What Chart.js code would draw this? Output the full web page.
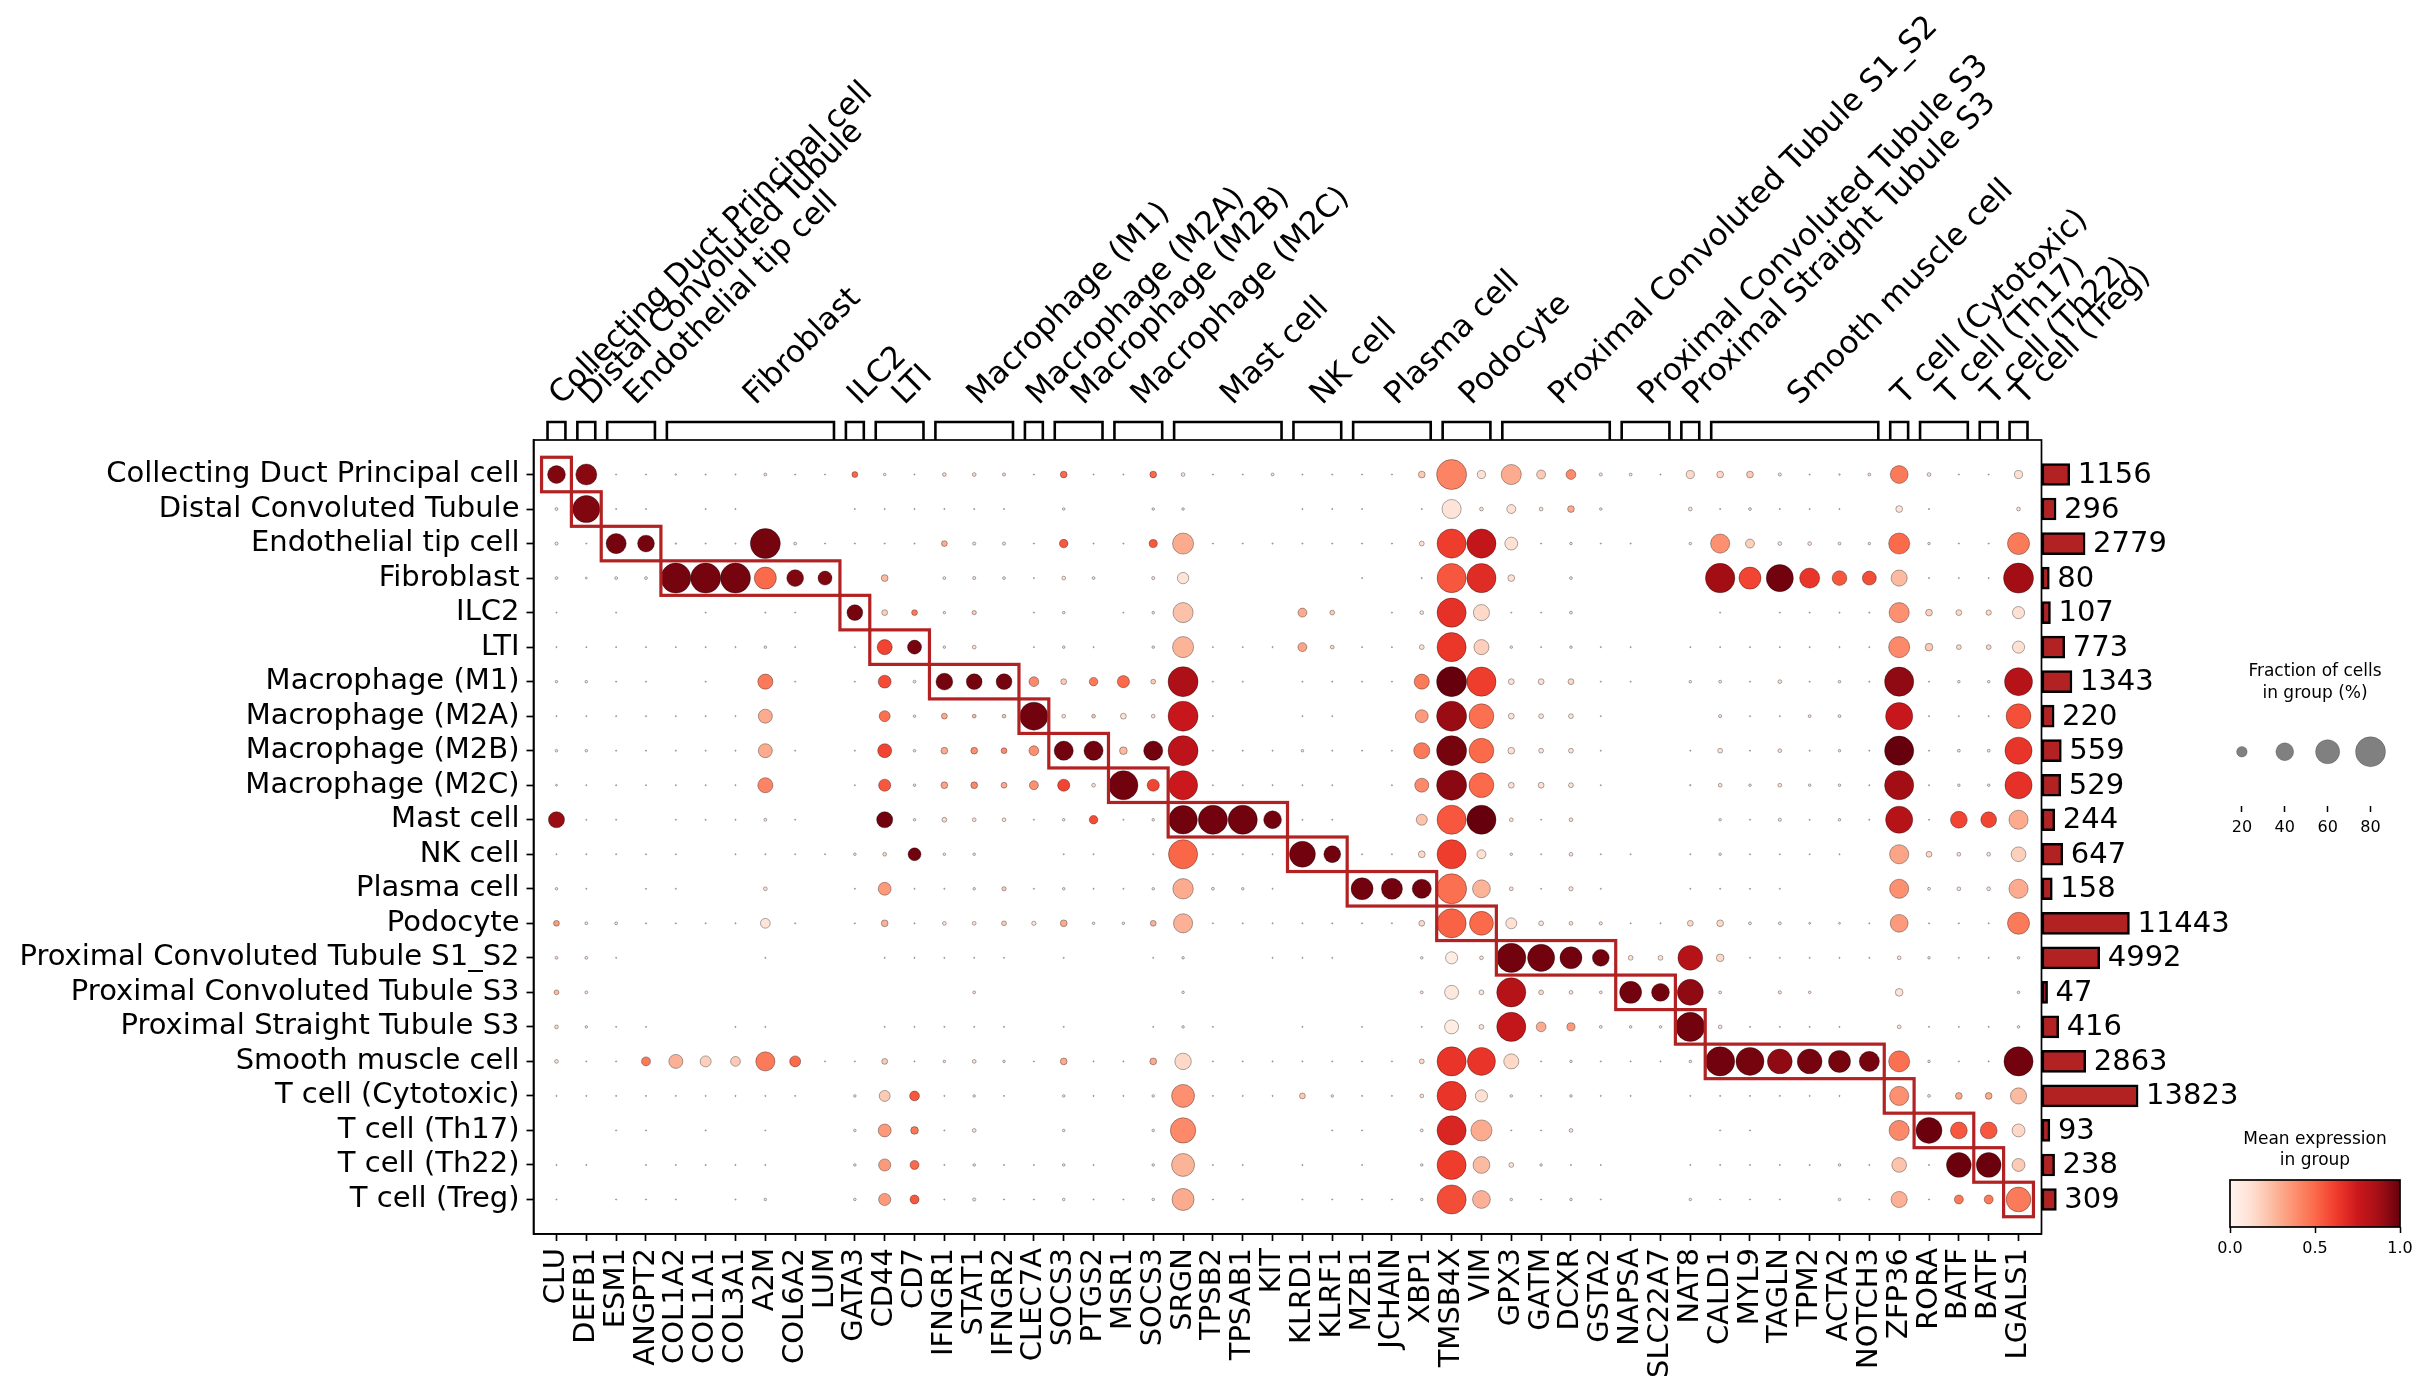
<!DOCTYPE html>
<html lang="en">
<head>
<meta charset="utf-8">
<title>Marker genes dot plot</title>
<script src="https://cdn.jsdelivr.net/npm/chart.js@4.4.1/dist/chart.umd.min.js"></script>
<style>
  body { margin: 0; background: #fff; overflow: hidden; }
  canvas { position: absolute; left: 0; top: 0; }
</style>
</head>
<body>
<canvas id="dots" width="2429" height="1394"></canvas>
<canvas id="totals" width="2429" height="1394"></canvas>
<canvas id="sizeLegend" width="2429" height="1394"></canvas>
<canvas id="colorBar" width="2429" height="1394"></canvas>
<script>
// cell types (rows, also the gene groups on top)
const rows = ["Collecting Duct Principal cell","Distal Convoluted Tubule","Endothelial tip cell","Fibroblast",
  "ILC2","LTI","Macrophage (M1)","Macrophage (M2A)","Macrophage (M2B)","Macrophage (M2C)","Mast cell",
  "NK cell","Plasma cell","Podocyte","Proximal Convoluted Tubule S1_S2","Proximal Convoluted Tubule S3",
  "Proximal Straight Tubule S3","Smooth muscle cell","T cell (Cytotoxic)","T cell (Th17)","T cell (Th22)","T cell (Treg)"];

const genes = ["CLU","DEFB1","ESM1","ANGPT2","COL1A2","COL1A1","COL3A1","A2M","COL6A2","LUM",
  "GATA3","CD44","CD7","IFNGR1","STAT1","IFNGR2","CLEC7A","SOCS3","PTGS2","MSR1",
  "SOCS3","SRGN","TPSB2","TPSAB1","KIT","KLRD1","KLRF1","MZB1","JCHAIN","XBP1",
  "TMSB4X","VIM","GPX3","GATM","DCXR","GSTA2","NAPSA","SLC22A7","NAT8","CALD1",
  "MYL9","TAGLN","TPM2","ACTA2","NOTCH3","ZFP36","RORA","BATF","BATF","LGALS1"];

// number of marker genes for each group, same order as rows
const groupSizes = [1,1,2,6,1,2,3,1,2,2,4,2,3,2,4,2,1,6,1,2,1,1];

// cells per group (bar plot on the right)
const cellCounts = [1156,296,2779,80,107,773,1343,220,559,529,244,647,158,11443,4992,47,416,2863,13823,93,238,309];

// fraction of cells expressing (%) per row
const pct = [
  [40,50,1,1,1.5,1,1,3.5,1,.5, 9,3,1,5,5,4,.5,11,.5,.5, 11,5,.5,.5,3.5,.5,.5,.5,.5,11, 80,14,47,16,18,4,3.5,.5,14,11, 11,4,1,1.5,3.5,40,5,.5,.5,14],
  [3.5,70,.5,.5,0,.5,.5,0,0,0, .5,.5,.5,.3,.5,.5,0,3,0,0, 3,3,0,0,0,.5,.5,.5,0,1, 44,5,16,5,11,3,0,0,5,1, 3.5,1,.5,.5,0,11,1,0,0,5],
  [4,1,47,37,1.5,1,1,80,3.5,.5, .3,.5,1,9,4,4,.5,15,.5,.5, 14,50,.5,.3,1,1,.3,.3,.3,7, 77,77,26,1,3,.5,.3,0,3,44, 16,5,5,3.5,3,50,3,.5,.5,53],
  [3.5,2,3.5,3.5,80,80,80,53,37,29, 0,11,0,3.5,4,3.5,1,5,3.5,0, 4,22,0,0,0,0,0,1,0,1, 77,77,11,0,3.5,0,0,0,0,78, 53,70,47,31,29,35,1,.5,.5,80],
  [1,0,.5,0,0,.5,0,.5,.5,0, 34,9,9,3,6,0,.5,3,0,.5, 3,47,0,0,0,16,7,0,.5,5, 77,35,1,1,3.5,0,0,0,0,.5, 0,.5,.5,.5,.5,47,11,9,8,24],
  [1,.5,.5,.5,.5,.3,.5,3,.5,0, 1,32,29,3,5,0,.5,3,.5,0, 3,50,.3,.3,.3,16,5,.3,.3,7, 77,32,3,.3,3,.3,.3,0,1,1, .5,.5,.5,1,.3,50,13,7,7,24],
  [3,3,1,.5,0,.5,0,32,.5,0, .5,26,3.5,37,34,34,18,9,15,24, 7,80,1,.3,0,.5,.5,.3,.5,32, 80,77,9,9,9,.5,.5,0,3,3.5, 1,5,1,3,.3,77,.3,3,3,73],
  [1,1,1,.5,.5,.5,.5,29,0,0, 0,21,3,9,5,5,73,5,5,9, 5,80,.5,0,0,.5,.3,0,0,26, 80,62,9,7,7,.5,0,0,0,4, .3,1,3.5,3.5,0,70,.5,.5,.5,62],
  [3,3,1,.5,.3,.3,1,29,.3,0, .3,29,3,11,11,9,18,44,44,13, 44,80,1,.5,.3,3,.5,.3,1,35, 80,62,11,7,7,.5,0,0,1,7, 1,5,1,3,1,77,.5,3.5,3.5,70],
  [2,1,1,.5,.3,.3,.3,32,0,0, .3,24,3,11,11,9,16,24,5,77, 24,77,.5,.5,.3,.5,.5,0,1,29, 80,62,9,9,7,.3,0,0,1.5,5, 3,5,3,3,.3,77,.5,3,3,70],
  [35,.3,.5,0,.3,.3,.3,3.5,.3,0, 0,35,3,7,5,5,.3,3,15,1, 3,75,77,77,40,1,.5,0,0,21, 77,77,5,1,5,0,0,0,0,3, .5,4,1,3,1,70,.5,37,34,44],
  [.5,.5,.5,.3,.3,0,.5,.5,.5,.3, 3,5,26,3,3,0,0,.5,.5,0, .5,77,.3,.5,.5,66,37,.3,.3,11, 77,16,3,1,5,.5,.3,0,.5,3, .5,.5,.5,.5,0,44,9,5,5,31],
  [3,1,0,.5,1,0,0,5,0,0, .5,26,.3,.3,3,6,.3,3,.5,.3, 3,48,3.5,3,1,0,0,53,50,44, 80,40,5,.5,6,.5,0,0,.5,.5, 1,.5,0,0,0,44,3.5,5,5,44],
  [9,3.5,3.5,1,.5,.5,.5,18,.3,0, .3,11,1,5,5,7,6,11,3,3, 9,44,.5,.5,.3,.5,.3,.3,1,9, 77,59,21,7,5,4,.5,.3,9,11, 3.5,3.5,2,2,.3,40,1,1,1,53],
  [3.5,3.5,.3,0,0,0,0,.5,0,0, 0,.5,.5,.5,.5,1,0,.5,0,0, .3,3,0,0,.3,.5,.3,0,0,3, 24,5,77,70,53,37,7,7,62,13, .5,.5,.5,.5,.3,5,3,.3,.3,3],
  [7,3.5,0,0,0,0,0,0,0,0, 0,0,0,0,3.5,0,0,0,0,0, 0,3,0,0,0,0,0,0,0,3.5, 29,7,77,7,5,3.5,53,40,66,3.5, 0,4,3,0,0,13,0,0,0,3],
  [5,3,.3,.3,0,0,.3,.5,0,0, 0,.3,.5,.5,.5,1,0,.3,0,0, .3,3,.3,0,0,.3,0,.3,0,1, 29,7,77,18,14,3.5,3,3,77,5, .3,.5,.5,.5,0,5,.5,.3,.3,3],
  [5,1,1,16,29,21,18,44,21,1, .5,9,.5,3,5,3,.3,11,.5,.5, 11,36,.5,.3,.5,.5,.3,.3,.3,7, 77,73,32,1,3,.4,.3,.3,3,77, 73,62,62,53,47,50,3,.5,.5,77],
  [.5,.3,.3,.3,.3,.3,.3,.5,.3,0, 3,21,18,1,3,.3,0,3,.3,.3, 3,56,.3,.3,.3,9,3,.5,.5,5, 77,24,3,.3,3,.3,.3,0,.5,.5, .3,.5,.5,1,0,44,3.5,11,11,35],
  [0,0,.5,.5,0,.5,0,.5,0,0, 3,26,13,.5,5,0,0,3,0,0, 3,64,0,0,0,0,.3,.3,0,3.5, 77,50,1,1,5,0,0,0,0,1, .5,0,0,0,0,47,66,37,37,26],
  [.3,.3,0,.3,.3,.3,.3,.5,0,0, 3,24,16,.3,3,.3,.3,3,.3,0, 3,56,.3,.5,0,.5,0,.5,0,3, 77,37,7,3,1,.3,0,0,1,.5, .5,.5,.5,3,.3,31,1,62,62,26],
  [.5,0,.3,.3,.3,0,.3,3,0,0, 3,24,16,.5,4,.3,.3,3,.3,.5, 3,53,.5,.3,0,.5,.3,.5,.3,3, 77,40,3,.5,3,.3,0,0,3,.5, .3,.3,0,3,.3,35,1,16,16,62]
];

// mean expression in group (0..1) per row
const expr = [
  [.95,.93,.05,.05,.05,.05,.05,.1,.05,.05, .5,.1,.05,.15,.15,.15,.05,.5,.05,.05, .5,.1,.05,.05,.1,.05,.05,.05,.05,.2, .42,.12,.3,.2,.4,.1,.1,.05,.15,.15, .2,.1,.05,.05,.1,.45,.1,.05,.05,.12],
  [.1,.95,.05,.05,0,.05,.05,0,0,0, .05,.05,.05,.05,.05,.05,0,.1,0,0, .1,.1,0,0,0,.05,.05,.05,0,.05, .1,.1,.12,.1,.3,.1,0,0,.1,.05, .1,.05,.05,.05,0,.1,.05,0,0,.1],
  [.1,.05,.97,.97,.05,.05,.05,.97,.1,.05, .05,.05,.05,.3,.1,.1,.05,.55,.05,.05, .55,.3,.05,.05,.05,.05,.05,.05,.05,.12, .62,.78,.12,.05,.1,.05,.05,0,.1,.38, .18,.1,.1,.1,.1,.5,.1,.05,.05,.45],
  [.1,.05,.1,.1,.97,.97,.97,.5,.95,.95, 0,.25,0,.1,.1,.1,.05,.1,.1,0, .1,.1,0,0,0,0,0,.05,0,.05, .55,.68,.12,0,.1,0,0,0,0,.88, .6,.98,.65,.55,.58,.25,.05,.05,.05,.88],
  [.05,0,.05,0,0,.05,0,.05,.05,0, .97,.18,.45,.1,.2,0,.05,.1,0,.05, .1,.23,0,0,0,.3,.2,0,.05,.1, .66,.15,.05,.05,.1,0,0,0,0,.05, 0,.05,.05,.05,.05,.38,.18,.15,.15,.12],
  [.05,.05,.05,.05,.05,.05,.05,.1,.05,0, .05,.6,.97,.1,.1,0,.05,.1,.05,0, .1,.27,.05,.05,.05,.32,.15,.05,.05,.1, .64,.18,.1,.05,.1,.05,.05,0,.05,.05, .05,.05,.05,.05,.05,.4,.2,.15,.15,.12],
  [.1,.1,.05,.05,0,.05,0,.45,.05,0, .05,.58,.1,.97,.97,.97,.4,.2,.45,.5, .2,.85,.05,.05,0,.05,.05,.05,.05,.45, 1,.62,.12,.12,.15,.05,.05,0,.1,.1, .05,.1,.05,.1,.05,.92,.05,.1,.1,.82],
  [.05,.05,.05,.05,.05,.05,.05,.3,0,0, 0,.48,.1,.3,.25,.2,.98,.1,.2,.12, .1,.76,.05,0,0,.05,.05,0,0,.35, .9,.48,.1,.1,.1,.05,0,0,0,.1, .05,.05,.1,.1,0,.76,.05,.05,.05,.57],
  [.1,.1,.05,.05,.05,.05,.05,.3,.05,0, .05,.6,.1,.3,.38,.4,.38,.98,.98,.25, .98,.8,.05,.05,.05,.1,.05,.05,.05,.45, .97,.5,.12,.1,.1,.05,0,0,.05,.1, .05,.1,.05,.1,.05,1,.05,.1,.1,.65],
  [.1,.05,.05,.05,.05,.05,.05,.42,0,0, .05,.55,.1,.32,.4,.3,.38,.6,.1,.98, .6,.75,.05,.05,.05,.05,.05,0,.05,.4, .93,.5,.12,.12,.1,.05,0,0,.05,.1, .1,.1,.1,.1,.05,.88,.05,.1,.1,.66],
  [.9,.05,.05,0,.05,.05,.05,.1,.05,0, 0,.98,.1,.15,.1,.1,.05,.1,.58,.05, .1,.98,.98,.98,.98,.05,.05,0,0,.22, .55,1,.1,.05,.1,0,0,0,0,.1, .05,.1,.05,.1,.05,.82,.05,.6,.6,.3],
  [.05,.05,.05,.05,.05,0,.05,.05,.05,.05, .1,.15,.98,.1,.1,0,0,.05,.05,0, .05,.51,.05,.05,.05,.98,.98,.05,.05,.15, .62,.12,.1,.05,.1,.05,.05,0,.05,.1, .05,.05,.05,.05,0,.32,.15,.1,.1,.18],
  [.1,.05,0,.05,.05,0,0,.1,0,0, .05,.35,.05,.05,.1,.2,.05,.1,.05,.05, .1,.3,.1,.1,.05,0,0,.98,.98,.98, .48,.27,.1,.05,.1,.05,0,0,.05,.05, .05,.05,0,0,0,.38,.1,.1,.1,.3],
  [.35,.1,.1,.05,.05,.05,.05,.1,.05,0, .05,.28,.05,.1,.1,.2,.1,.3,.1,.1, .28,.28,.05,.05,.05,.05,.05,.05,.05,.15, .52,.5,.12,.1,.1,.1,.05,.05,.15,.15, .1,.1,.1,.1,.05,.35,.05,.05,.05,.45],
  [.12,.1,.05,0,0,0,0,.05,0,0, 0,.05,.05,.05,.05,.05,0,.05,0,0, .05,.1,0,0,.05,.05,.05,0,0,.1, .05,.1,.98,.98,.98,.98,.12,.12,.82,.15, .05,.05,.05,.05,.05,.1,.1,.05,.05,.1],
  [.25,.1,0,0,0,0,0,0,0,0, 0,0,0,0,.1,0,0,0,0,0, 0,.1,0,0,0,0,0,0,0,.1, .08,.1,.82,.15,.1,.1,.98,.98,.92,.1, 0,.1,.1,0,0,.1,0,0,0,.1],
  [.15,.1,.05,.05,0,0,.05,.05,0,0, 0,.05,.05,.05,.05,.05,0,.05,0,0, .05,.1,.05,0,0,.05,0,.05,0,.05, .05,.1,.78,.3,.35,.1,.1,.1,.98,.1, .05,.05,.05,.05,0,.1,.05,.05,.05,.1],
  [.1,.05,.05,.45,.28,.18,.2,.45,.5,.05, .05,.2,.05,.1,.1,.1,.05,.3,.05,.05, .3,.15,.05,.05,.05,.05,.05,.05,.05,.15, .65,.65,.15,.05,.1,.05,.05,.05,.1,.98, .97,.92,.97,.97,.97,.48,.1,.05,.05,.98],
  [.05,.05,.05,.05,.05,.05,.05,.05,.05,0, .1,.2,.55,.05,.1,.05,0,.1,.05,.05, .1,.38,.05,.05,.05,.2,.1,.05,.05,.1, .65,.12,.1,.05,.1,.05,.05,0,.05,.05, .05,.05,.05,.05,0,.38,.1,.3,.3,.25],
  [0,0,.05,.05,0,.05,0,.05,0,0, .1,.35,.45,.05,.1,0,0,.1,0,0, .1,.4,0,0,0,0,.05,.05,0,.1, .7,.3,.05,.05,.1,0,0,0,0,.05, .05,0,0,0,0,.4,.99,.55,.55,.15],
  [.05,.05,0,.05,.05,.05,.05,.05,0,0, .1,.35,.5,.05,.1,.05,.05,.1,.05,0, .1,.27,.05,.05,0,.05,0,.05,0,.1, .62,.25,.1,.1,.05,.05,0,0,.05,.05, .05,.05,.05,.1,.05,.22,.05,.99,.99,.2],
  [.05,0,.05,.05,.05,0,.05,.1,0,0, .1,.35,.55,.05,.1,.05,.05,.1,.05,.05, .1,.3,.05,.05,0,.05,.05,.05,.05,.1, .58,.28,.1,.05,.1,.05,0,0,.1,.05, .05,.05,0,.1,.05,.28,.05,.45,.45,.45]
];

const legendPct = [20, 40, 60, 80];
const cbarTicks = [0, 0.5, 1];

// matplotlib "Reds"
const redsStops = ["#fff5f0","#fee0d2","#fcbba1","#fc9272","#fb6a4a","#ef3b2c","#cb181d","#a50f15","#67000d"];

function hexRgb(h) { return [1,3,5].map(i => parseInt(h.substr(i, 2), 16)); }
function reds(v) {
  v = Math.max(0, Math.min(1, v)) * 8;
  const i = Math.min(7, Math.floor(v)), t = v - i;
  const a = hexRgb(redsStops[i]), b = hexRgb(redsStops[i + 1]);
  return 'rgb(' + a.map((c, k) => Math.round(c + (b[k] - c) * t)).join(',') + ')';
}
// area ~ fraction^1.5 like scanpy, 80% -> 30px dot
function dotRadius(f) { return Math.max(0.6, 15 * Math.pow(f / 80, 0.75)); }

const groupStart = [];
groupSizes.reduce((s, n) => { groupStart.push(s); return s + n; }, 0);

Chart.defaults.font.family = '"DejaVu Sans", sans-serif';
Chart.defaults.color = '#000';
Chart.defaults.animation = false;
Chart.defaults.plugins.legend.display = false;
Chart.defaults.plugins.tooltip.enabled = false;

const FONT = 29;
const base = { responsive: false, devicePixelRatio: 1, events: [] };

// ---------- main dot plot ----------
const dotPoints = [];
pct.forEach((row, r) => row.forEach((f, c) => {
  if (f > 0) dotPoints.push({ x: c, y: r, r: dotRadius(f), e: expr[r][c] });
}));

const dotDecor = {
  id: 'dotDecor',
  afterDatasetsDraw(chart) {
    const { ctx, chartArea: a, scales: { x, y } } = chart;
    ctx.save();
    // group boxes
    ctx.strokeStyle = '#b22222';
    ctx.lineWidth = 3.2;
    groupStart.forEach((s, i) => {
      const x0 = x.getPixelForValue(s - 0.5), x1 = x.getPixelForValue(s + groupSizes[i] - 0.5);
      const y0 = y.getPixelForValue(i - 0.5), y1 = y.getPixelForValue(i + 0.5);
      ctx.strokeRect(x0, y0, x1 - x0, y1 - y0);
    });
    // frame
    ctx.strokeStyle = '#000';
    ctx.lineWidth = 1.7;
    ctx.strokeRect(a.left, a.top, a.right - a.left, a.bottom - a.top);
    // brackets + group labels
    ctx.lineWidth = 2.6;
    const yb = a.top, yt = a.top - 18;
    ctx.font = '31px "DejaVu Sans"';
    ctx.fillStyle = '#000';
    groupStart.forEach((s, i) => {
      const e = s + groupSizes[i] - 1;
      const x0 = x.getPixelForValue(s - 0.3), x1 = x.getPixelForValue(e + 0.3);
      ctx.beginPath();
      ctx.moveTo(x0, yb); ctx.lineTo(x0, yt); ctx.lineTo(x1, yt); ctx.lineTo(x1, yb);
      ctx.stroke();
      const gx = x.getPixelForValue((s + e) / 2);
      ctx.save();
      ctx.translate(gx + 10, yt - 11);
      ctx.rotate(-Math.PI / 4);
      ctx.textAlign = 'left';
      ctx.textBaseline = 'bottom';
      ctx.fillText(rows[i], 0, 0);
      ctx.restore();
    });
    ctx.restore();
  }
};

const axisLook = {
  grid: { drawOnChartArea: false, drawTicks: true, tickLength: 7, tickWidth: 1.7, tickColor: '#000' },
  border: { display: true, color: '#000', width: 1.7 }
};

new Chart(document.getElementById('dots'), {
  type: 'bubble',
  data: { datasets: [{
    data: dotPoints,
    backgroundColor: c => reds(c.raw.e),
    borderColor: 'rgba(0,0,0,0.55)',
    borderWidth: 0.6
  }] },
  options: {
    ...base,
    layout: { padding: { left: 0, top: 440, right: 387.5, bottom: 0 } },
    scales: {
      x: {
        type: 'linear', min: -0.77, max: 49.77, bounds: 'data', position: 'bottom',
        afterBuildTicks: s => { s.ticks = genes.map((g, i) => ({ value: i })); },
        afterFit: s => { s.height = 160; },
        ticks: { autoSkip: false, minRotation: 90, maxRotation: 90, padding: 7, font: { size: FONT },
                 callback: v => genes[v] },
        ...axisLook
      },
      y: {
        type: 'linear', min: -1, max: 22, reverse: true, bounds: 'data',
        afterBuildTicks: s => { s.ticks = rows.map((r, i) => ({ value: i })); },
        afterFit: s => { s.width = 533.5; },
        ticks: { autoSkip: false, padding: 7, font: { size: FONT }, callback: v => rows[v] },
        ...axisLook
      }
    }
  },
  plugins: [dotDecor]
});

// ---------- totals bars (sqrt scaled) ----------
const countLabels = {
  id: 'countLabels',
  afterDatasetsDraw(chart) {
    const { ctx } = chart;
    ctx.save();
    ctx.font = FONT + 'px "DejaVu Sans"';
    ctx.fillStyle = '#000';
    ctx.textBaseline = 'middle';
    chart.getDatasetMeta(0).data.forEach((bar, i) => {
      ctx.fillText(String(cellCounts[i]), bar.x + 8, bar.y + 1);
    });
    ctx.restore();
  }
};

new Chart(document.getElementById('totals'), {
  type: 'bar',
  data: { datasets: [{
    data: cellCounts.map((n, i) => ({ x: Math.sqrt(n), y: i })),
    backgroundColor: '#b22222',
    borderColor: '#000',
    borderWidth: 2.5,
    borderSkipped: false,
    barThickness: 22
  }] },
  options: {
    ...base,
    indexAxis: 'y',
    layout: { padding: { left: 2042, right: 208, top: 440, bottom: 160 } },
    scales: {
      x: { type: 'linear', min: 0, max: 219, display: false },
      y: { type: 'linear', min: -1, max: 22, reverse: true, offset: false, bounds: 'data', display: false }
    }
  },
  plugins: [countLabels]
});

// ---------- size legend ----------
const sizeTitle = {
  id: 'sizeTitle',
  afterDraw(chart) {
    const { ctx } = chart;
    ctx.save();
    ctx.font = '17px "DejaVu Sans"';
    ctx.fillStyle = '#000';
    ctx.textAlign = 'center';
    ctx.textBaseline = 'middle';
    ctx.fillText('Fraction of cells', 2315, 672);
    ctx.fillText('in group (%)', 2315, 694);
    ctx.restore();
  }
};

const legendAxis = {
  grid: { display: true, drawOnChartArea: false, drawTicks: true, tickLength: 6, tickWidth: 1.5, tickColor: '#000' },
  border: { display: false },
  afterFit: s => { s.height = 30; }
};

new Chart(document.getElementById('sizeLegend'), {
  type: 'bubble',
  data: { datasets: [{
    data: legendPct.map(f => ({ x: f, y: 0.67, r: dotRadius(f) })),
    backgroundColor: '#808080',
    borderColor: 'rgba(0,0,0,0.35)',
    borderWidth: 0.6
  }] },
  options: {
    ...base,
    layout: { padding: { left: 2199, right: 13, top: 725, bottom: 558 } },
    scales: {
      x: {
        type: 'linear', min: 0, max: 100, bounds: 'data',
        afterBuildTicks: s => { s.ticks = legendPct.map(v => ({ value: v })); },
        ticks: { font: { size: 16 }, padding: 6 },
        ...legendAxis
      },
      y: { min: 0, max: 1, display: false }
    }
  },
  plugins: [sizeTitle]
});

// ---------- colour bar ----------
const cbarFrame = {
  id: 'cbarFrame',
  afterDraw(chart) {
    const { ctx, chartArea: a } = chart;
    ctx.save();
    ctx.strokeStyle = '#000';
    ctx.lineWidth = 1.7;
    ctx.strokeRect(a.left, a.top, a.right - a.left, a.bottom - a.top);
    ctx.font = '17px "DejaVu Sans"';
    ctx.fillStyle = '#000';
    ctx.textAlign = 'center';
    ctx.textBaseline = 'middle';
    ctx.fillText('Mean expression', (a.left + a.right) / 2, 1140);
    ctx.fillText('in group', (a.left + a.right) / 2, 1161);
    ctx.restore();
  }
};

new Chart(document.getElementById('colorBar'), {
  type: 'bar',
  data: { labels: ['expr'], datasets: [{
    data: [1],
    backgroundColor: c => {
      const a = c.chart.chartArea;
      if (!a) return redsStops[4];
      const g = c.chart.ctx.createLinearGradient(a.left, 0, a.right, 0);
      redsStops.forEach((col, i) => g.addColorStop(i / 8, col));
      return g;
    },
    borderWidth: 0,
    barPercentage: 1,
    categoryPercentage: 1
  }] },
  options: {
    ...base,
    indexAxis: 'y',
    layout: { padding: { left: 2230, right: 29, top: 1180, bottom: 137 } },
    scales: {
      x: {
        type: 'linear', min: 0, max: 1, bounds: 'data',
        afterBuildTicks: s => { s.ticks = cbarTicks.map(v => ({ value: v })); },
        ticks: { font: { size: 16 }, padding: 6, callback: v => v.toFixed(1) },
        ...legendAxis
      },
      y: { display: false }
    }
  },
  plugins: [cbarFrame]
});
</script>
</body>
</html>
